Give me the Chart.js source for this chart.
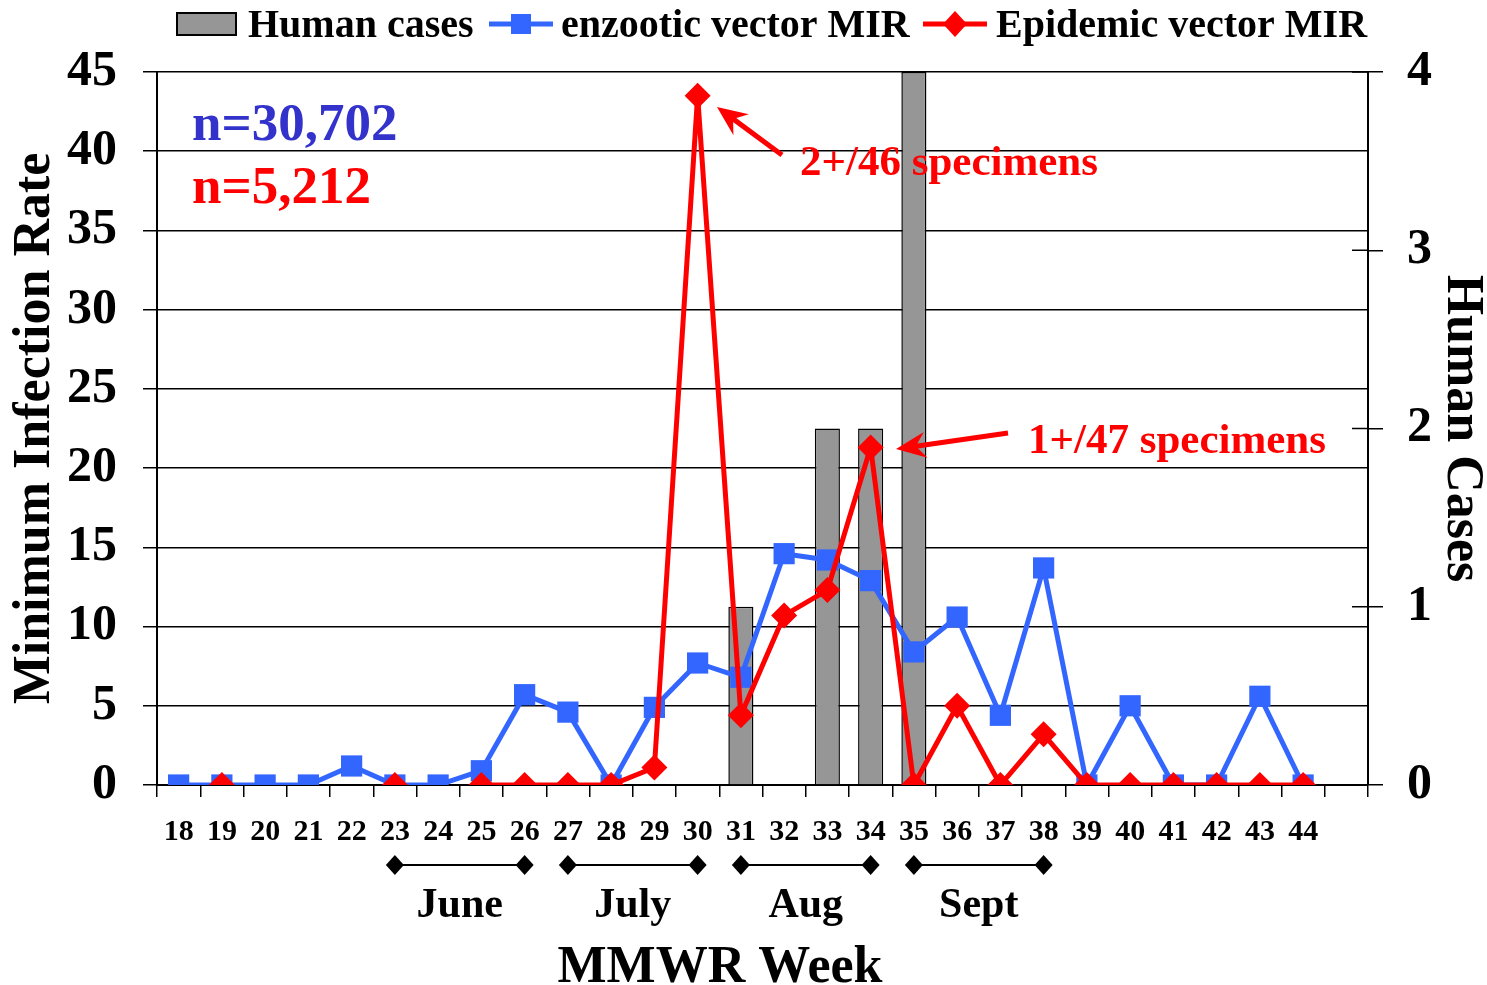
<!DOCTYPE html>
<html><head><meta charset="utf-8">
<script src="https://cdn.jsdelivr.net/npm/chart.js@4/dist/chart.umd.min.js"></script>
<style>html,body{margin:0;padding:0;background:#fff;} #wrap{width:1487px;height:985px;position:relative;}</style>
</head><body><div id="wrap"><canvas id="c"></canvas></div>
<script>
const weeks = ['18','19','20','21','22','23','24','25','26','27','28','29','30','31','32','33','34','35','36','37','38','39','40','41','42','43','44',''];
const humanCases = [null,null,null,null,null,null,null,null,null,null,null,null,null,1,null,2,2,4,null,null,null,null,null,null,null,null,null,null];
const enzooticMIR = [0,0,0,0,1.2,0,0,0.9,5.7,4.6,0,4.9,7.7,6.8,14.6,14.2,12.9,8.4,10.6,4.4,13.7,0,5.0,0,0,5.6,0,null];
const epidemicMIR = [null,0,null,null,null,0,null,0,0,0,0,1.1,43.5,4.4,10.7,12.3,21.3,0,5.0,0,3.2,0,0,0,0,0,0,null];
const months = ['June','July','Aug','Sept'];
const monthStartWeek = ['23','27','31','35'];
const monthEndWeek = ['26','30','34','38'];
const countLabels = ['n=30,702','n=5,212'];
const calloutLabels = ['2+/46 specimens','1+/47 specimens'];
const legendLabels = ['Human cases','enzootic vector MIR','Epidemic vector MIR'];
const xAxisTitle = 'MMWR Week';

const BLUE = '#3366FF', RED = '#FF0000', GRAY = '#969696', NAVY = '#3333CC';
const FONT = '"Liberation Serif", "Times New Roman", serif';

function diamond(ctx, x, y, hw, hh, color) {
  ctx.beginPath();
  ctx.moveTo(x, y - hh); ctx.lineTo(x + hw, y); ctx.lineTo(x, y + hh); ctx.lineTo(x - hw, y);
  ctx.closePath(); ctx.fillStyle = color; ctx.fill();
}
function arrow(ctx, x1, y1, x2, y2, color) {
  const ang = Math.atan2(y2 - y1, x2 - x1);
  const L = 30, W = 13;
  const bx = x2 - L * Math.cos(ang), by = y2 - L * Math.sin(ang);
  ctx.strokeStyle = color; ctx.lineWidth = 5; ctx.lineCap = 'butt';
  ctx.beginPath(); ctx.moveTo(x1, y1); ctx.lineTo(x2 - 20 * Math.cos(ang), y2 - 20 * Math.sin(ang)); ctx.stroke();
  ctx.beginPath();
  ctx.moveTo(x2, y2);
  ctx.lineTo(bx + W * Math.sin(ang), by - W * Math.cos(ang));
  ctx.lineTo(x2 - 20 * Math.cos(ang), y2 - 20 * Math.sin(ang));
  ctx.lineTo(bx - W * Math.sin(ang), by + W * Math.cos(ang));
  ctx.closePath(); ctx.fillStyle = color; ctx.fill();
}

const overlay = {
  id: 'overlay',
  afterDraw(chart) {
    const ctx = chart.ctx, ca = chart.chartArea;
    const xs = chart.scales.x, y1 = chart.scales.y1;
    ctx.save();
    // inner half of right-axis tick marks
    ctx.strokeStyle = '#000'; ctx.lineWidth = 1.5;
    y1.ticks.forEach(t => {
      const py = y1.getPixelForValue(t.value);
      ctx.beginPath(); ctx.moveTo(ca.right - 16, py); ctx.lineTo(ca.right, py); ctx.stroke();
    });
    // legend
    ctx.font = 'bold 40px ' + FONT; ctx.textBaseline = 'alphabetic'; ctx.textAlign = 'left';
    ctx.fillStyle = GRAY; ctx.fillRect(177, 13, 59, 22);
    ctx.strokeStyle = '#000'; ctx.lineWidth = 2; ctx.strokeRect(177, 13, 59, 22);
    ctx.fillStyle = '#000'; ctx.fillText(legendLabels[0], 248, 37);
    ctx.strokeStyle = BLUE; ctx.lineWidth = 5;
    ctx.beginPath(); ctx.moveTo(489, 24); ctx.lineTo(553, 24); ctx.stroke();
    ctx.fillStyle = BLUE; ctx.fillRect(511, 14, 20, 20);
    ctx.fillStyle = '#000'; ctx.fillText(legendLabels[1], 561, 37);
    ctx.strokeStyle = RED; ctx.lineWidth = 5;
    ctx.beginPath(); ctx.moveTo(923, 24); ctx.lineTo(987, 24); ctx.stroke();
    diamond(ctx, 955, 24, 12, 13, RED);
    ctx.fillStyle = '#000'; ctx.fillText(legendLabels[2], 996, 37);
    // sample sizes
    ctx.font = 'bold 53px ' + FONT;
    ctx.fillStyle = NAVY; ctx.fillText(countLabels[0], 192, 140);
    ctx.fillStyle = RED; ctx.fillText(countLabels[1], 192, 203);
    // callouts
    ctx.font = 'bold 43px ' + FONT; ctx.fillStyle = RED;
    ctx.fillText(calloutLabels[0], 800, 175);
    ctx.fillText(calloutLabels[1], 1028, 453);
    arrow(ctx, 782, 155, 717, 107, RED);
    arrow(ctx, 1008, 433, 896, 449, RED);
    // month brackets
    const by = 865;
    ctx.font = 'bold 42px ' + FONT; ctx.textAlign = 'center'; ctx.fillStyle = '#000';
    months.forEach((m, i) => {
      const xa = xs.getPixelForValue(weeks.indexOf(monthStartWeek[i]));
      const xb = xs.getPixelForValue(weeks.indexOf(monthEndWeek[i]));
      ctx.strokeStyle = '#000'; ctx.lineWidth = 2;
      ctx.beginPath(); ctx.moveTo(xa, by); ctx.lineTo(xb, by); ctx.stroke();
      diamond(ctx, xa, by, 9, 10, '#000');
      diamond(ctx, xb, by, 9, 10, '#000');
      ctx.fillStyle = '#000';
      ctx.fillText(m, (xa + xb) / 2, 917);
    });
    // x-axis title (offset left of the plot centre, as in the original)
    ctx.font = 'bold 52px ' + FONT; ctx.textAlign = 'center'; ctx.fillStyle = '#000';
    ctx.fillText(xAxisTitle, 720, 982);
    ctx.restore();
  }
};

new Chart(document.getElementById('c'), {
  type: 'bar',
  data: {
    labels: weeks,
    datasets: [
      { type: 'line', label: legendLabels[2], data: epidemicMIR, yAxisID: 'y', borderColor: RED, backgroundColor: RED,
        borderWidth: 5, pointStyle: 'rectRot', pointRadius: 13, pointHoverRadius: 13, pointBorderWidth: 0,
        spanGaps: false, tension: 0, order: 0 },
      { type: 'line', label: legendLabels[1], data: enzooticMIR, yAxisID: 'y', borderColor: BLUE, backgroundColor: BLUE,
        borderWidth: 5, pointStyle: 'rect', pointRadius: 15, pointHoverRadius: 15, pointBorderWidth: 0,
        spanGaps: false, tension: 0, order: 1 },
      { type: 'bar', label: legendLabels[0], data: humanCases, yAxisID: 'y1', backgroundColor: GRAY, borderColor: '#000',
        borderWidth: 1.5, barPercentage: 0.58, categoryPercentage: 1, order: 2 }
    ]
  },
  options: {
    responsive: true, maintainAspectRatio: false, animation: false, events: [],
    layout: { padding: { top: 72, left: 0, right: 0, bottom: 0 } },
    plugins: { legend: { display: false }, tooltip: { enabled: false } },
    scales: {
      x: {
        offset: true,
        grid: { display: true, drawOnChartArea: false, offset: true, color: '#000', lineWidth: 1.5, tickLength: 12 },
        border: { color: '#000', width: 2 },
        ticks: { font: { family: FONT, size: 30, weight: 'bold' }, color: '#000', padding: 17, maxRotation: 0, autoSkip: false },
        title: { display: false },
        afterFit(s) { s.height = 200; }
      },
      y: {
        position: 'left', min: 0, max: 45,
        ticks: { stepSize: 5, font: { family: FONT, size: 50, weight: 'bold' }, color: '#000', padding: 26 },
        grid: { color: '#000', lineWidth: 1.5, tickLength: 14 },
        border: { color: '#000', width: 2 },
        title: { display: true, text: 'Minimum Infection Rate', color: '#000', font: { family: FONT, size: 52, weight: 'bold', lineHeight: 1 }, padding: { top: 10, bottom: 0 } },
        afterFit(s) { s.width = 157; }
      },
      y1: {
        position: 'right', min: 0, max: 4,
        ticks: { stepSize: 1, font: { family: FONT, size: 50, weight: 'bold' }, color: '#000', padding: 24 },
        grid: { drawOnChartArea: false, color: '#000', lineWidth: 1.5, tickLength: 15 },
        border: { color: '#000', width: 2 },
        title: { display: true, text: 'Human Cases', color: '#000', font: { family: FONT, size: 52, weight: 'bold', lineHeight: 1 }, padding: { top: 0, bottom: 0 } },
        afterFit(s) { s.width = 119; }
      }
    }
  },
  plugins: [overlay]
});
</script>
</body></html>
